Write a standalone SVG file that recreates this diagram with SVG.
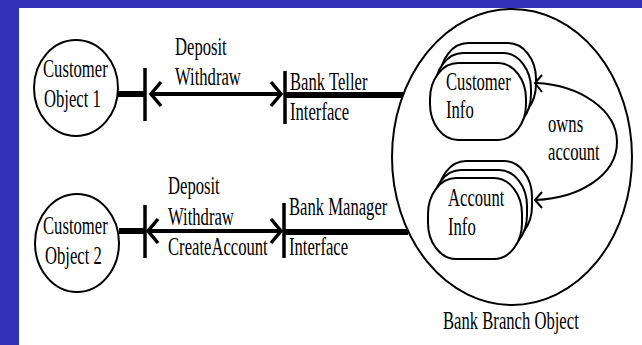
<svg xmlns="http://www.w3.org/2000/svg" width="642" height="345" viewBox="0 0 642 345">
<style>
.t{font-family:"Liberation Serif","Times New Roman",serif;font-size:26px;fill:#000}
.o{fill:#fff;stroke:#000;stroke-width:2}
.thick{stroke:#000;stroke-width:6;fill:none}
.bar{stroke:#000;stroke-width:3.5;fill:none}
.shaft{stroke:#000;stroke-width:4;fill:none}
.head{stroke:#000;stroke-width:3.5;fill:none;stroke-linejoin:miter}
.thin{stroke:#000;stroke-width:2;fill:none}
</style>
<rect x="0" y="0" width="642" height="345" fill="#3131B7"/>
<rect x="19" y="8" width="623" height="337" fill="#fff"/>
<g id="bank-branch">
<ellipse class="o" cx="512" cy="157" rx="120" ry="148"/>
<text class="t" transform="translate(443,329) scale(0.64,1)">Bank Branch Object</text>
</g>
<g id="customer-object-1">
<ellipse class="o" cx="76" cy="88" rx="42" ry="48"/>
<text class="t" transform="translate(43,77) scale(0.64,1)">Customer</text>
<text class="t" transform="translate(44,107) scale(0.64,1)">Object 1</text>
</g>
<g id="customer-object-2">
<ellipse class="o" cx="77" cy="243" rx="42" ry="49"/>
<text class="t" transform="translate(43,234) scale(0.64,1)">Customer</text>
<text class="t" transform="translate(45,264) scale(0.64,1)">Object 2</text>
</g>
<g id="customer-info">
<rect class="o" x="440" y="43" width="96" height="77" rx="28" ry="36"/>
<rect class="o" x="435" y="53" width="96" height="77" rx="28" ry="36"/>
<rect class="o" x="430" y="63" width="96" height="77" rx="28" ry="36"/>
<text class="t" transform="translate(446,90) scale(0.64,1)">Customer</text>
<text class="t" transform="translate(446,118) scale(0.64,1)">Info</text>
</g>
<g id="account-info">
<rect class="o" x="438" y="161" width="94" height="81" rx="28" ry="36"/>
<rect class="o" x="433" y="170" width="94" height="81" rx="28" ry="36"/>
<rect class="o" x="428" y="178" width="94" height="81" rx="28" ry="36"/>
<text class="t" transform="translate(448,206) scale(0.64,1)">Account</text>
<text class="t" transform="translate(448,235) scale(0.64,1)">Info</text>
</g>
<g id="bank-teller-interface">
<text class="t" transform="translate(290,90) scale(0.64,1)">Bank Teller</text>
<text class="t" transform="translate(290,120) scale(0.64,1)">Interface</text>
</g>
<g id="bank-manager-interface">
<text class="t" transform="translate(289,215) scale(0.64,1)">Bank Manager</text>
<text class="t" transform="translate(289,255) scale(0.64,1)">Interface</text>
</g>
<g id="connectors">
<line class="thick" x1="118" y1="94" x2="145" y2="94"/>
<line class="bar" x1="145" y1="68" x2="145" y2="121"/>
<line class="shaft" x1="150" y1="94" x2="280" y2="94"/>
<polyline class="head" points="161,82 151,94 161,106"/>
<polyline class="head" points="271,82 281,94 271,106"/>
<line class="bar" x1="285" y1="71" x2="285" y2="124"/>
<line class="thick" x1="285" y1="95" x2="403" y2="95"/>
<text class="t" transform="translate(175,55) scale(0.64,1)">Deposit</text>
<text class="t" transform="translate(175,85) scale(0.64,1)">Withdraw</text>

<line class="thick" x1="119" y1="231" x2="145" y2="231"/>
<line class="bar" x1="145" y1="205" x2="145" y2="258"/>
<line class="shaft" x1="148" y1="231" x2="280" y2="231"/>
<polyline class="head" points="158,219 148,231 158,243"/>
<polyline class="head" points="271,219 281,231 271,243"/>
<line class="bar" x1="284" y1="203" x2="284" y2="258"/>
<line class="thick" x1="284" y1="232" x2="408" y2="232"/>
<text class="t" transform="translate(168,194) scale(0.64,1)">Deposit</text>
<text class="t" transform="translate(168,225) scale(0.64,1)">Withdraw</text>
<text class="t" transform="translate(168,255) scale(0.64,1)">CreateAccount</text>

<path class="thin" d="M536,83 C580,85 617,110 617,142 C617,175 580,198 536,200"/>
<polyline class="thin" points="542,75 535,83 542,92"/>
<polyline class="thin" points="542,192 535,200 542,208"/>
<text class="t" transform="translate(548,132) scale(0.64,1)">owns</text>
<text class="t" transform="translate(548,160) scale(0.64,1)">account</text>
</g>
</svg>
